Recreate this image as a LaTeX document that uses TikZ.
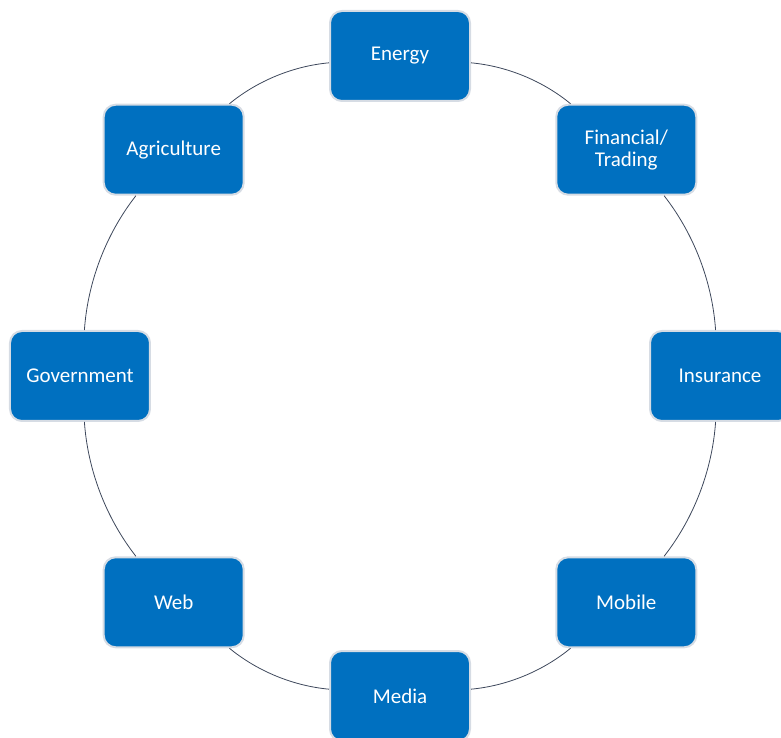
\documentclass[tikz,border=0pt]{standalone}
\usepackage{fontspec}
\setmainfont{Carlito}
\definecolor{boxblue}{RGB}{0,112,192}
\definecolor{boxrim}{RGB}{214,220,228}
\definecolor{ringline}{RGB}{62,72,92}
\tikzset{
  sector/.style={draw=boxrim,line width=2pt,fill=boxblue,rounded corners=12pt,
    minimum width=140pt,minimum height=90pt,text=white,align=center,
    font=\fontsize{21}{22}\selectfont},
  ring/.style={draw=ringline,line width=0.8pt,bend left=17,looseness=0.86}
}
\begin{document}
\begin{tikzpicture}[x=1pt,y=1pt]
\useasboundingbox (-400,-362) rectangle (381,376);

\node[sector] (energy) at (90:320pt) {Energy};
\node[sector] (finance) at (45:320pt) {Financial/\\Trading};
\node[sector] (insurance) at (0:320pt) {Insurance};
\node[sector] (mobile) at (-45:320pt) {Mobile};
\node[sector] (media) at (-90:320pt) {Media};
\node[sector] (web) at (-135:320pt) {Web};
\node[sector] (gov) at (180:320pt) {Government};
\node[sector] (agri) at (135:320pt) {Agriculture};

\draw[ring] (energy) to (finance);
\draw[ring] (finance) to (insurance);
\draw[ring] (insurance) to (mobile);
\draw[ring] (mobile) to (media);
\draw[ring] (media) to (web);
\draw[ring] (web) to (gov);
\draw[ring] (gov) to (agri);
\draw[ring] (agri) to (energy);

\end{tikzpicture}
\end{document}
